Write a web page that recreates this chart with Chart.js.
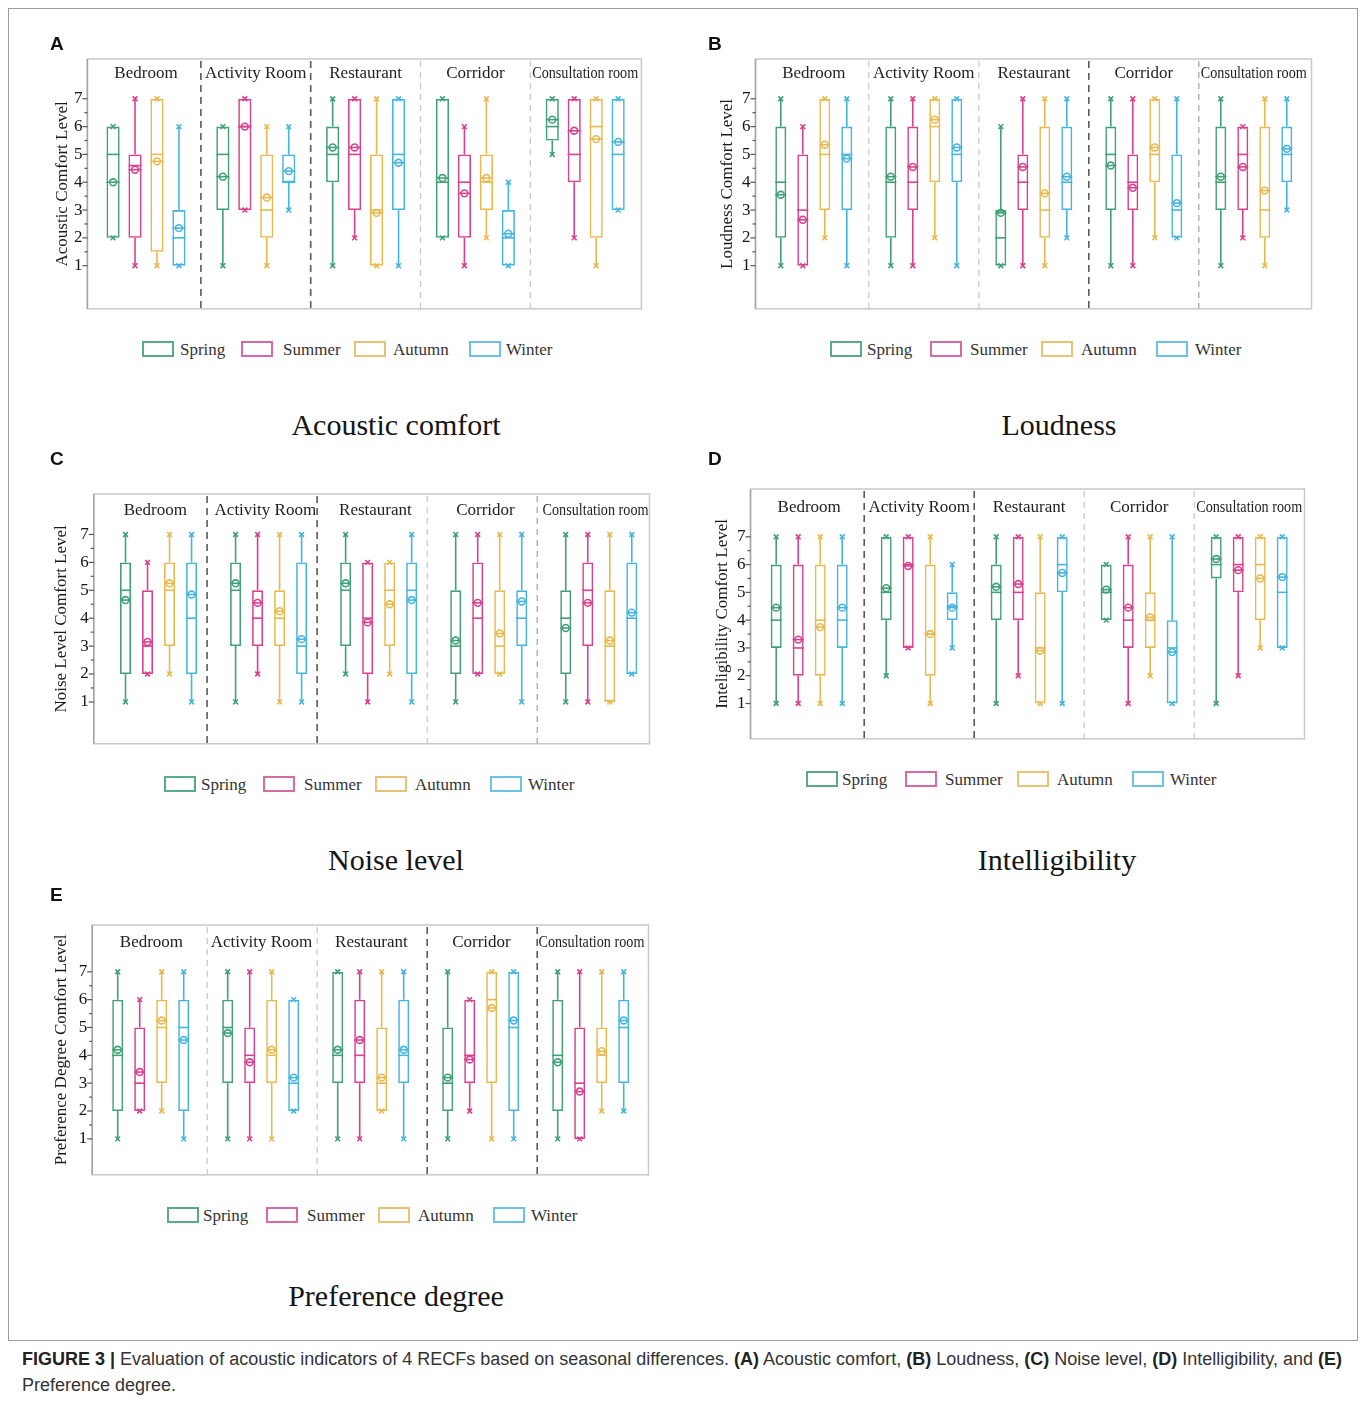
<!DOCTYPE html>
<html>
<head>
<meta charset="utf-8">
<script src="https://cdn.jsdelivr.net/npm/chart.js@4.4.1/dist/chart.umd.min.js"></script>
<style>
  html, body { margin: 0; padding: 0; background: #fff; }
  body { width: 1360px; height: 1403px; position: relative; overflow: hidden;
         font-family: "Liberation Serif", "Times New Roman", serif; }
  canvas { position: absolute; }
  .outer { position: absolute; left: 8px; top: 8px; width: 1350px; height: 1333px;
           border: 1px solid #9c9c9c; box-sizing: border-box; }
  .letter { position: absolute; font-family: "Liberation Sans", Arial, sans-serif;
            font-weight: bold; font-size: 19px; color: #111; line-height: 1; }
  .ptitle { position: absolute; font-size: 30px; color: #151515; white-space: nowrap;
            transform: translate(-50%, -50%); line-height: 1; }
  .lg-sw { position: absolute; width: 32px; height: 16px; box-sizing: border-box; border: 2px solid; }
  .lg-tx { position: absolute; font-size: 17px; color: #333; line-height: 1; transform: translateY(-50%); white-space: nowrap; }
  .caption { position: absolute; left: 22px; font-family: "Liberation Sans", Arial, sans-serif;
             font-size: 18px; color: #333; white-space: nowrap; line-height: 1; transform: translateY(-50%); }
  .caption b { color: #222; }
</style>
</head>
<body>
<div class="outer"></div>

<script>
// ---------- data ----------
const rooms = ['Bedroom', 'Activity Room', 'Restaurant', 'Corridor', 'Consultation room'];
const seasons = ['Spring', 'Summer', 'Autumn', 'Winter'];
const yTicks = [1, 2, 3, 4, 5, 6, 7];

// one entry per room: [lower whisker, Q1, median, Q3, upper whisker, mean]
const acousticSpring = [[2, 2, 5, 6, 6, 4.0], [1, 3, 5, 6, 6, 4.2], [1, 4, 5, 6, 7, 5.25], [2, 2, 4, 7, 7, 4.15], [5, 5.5, 6, 7, 7, 6.25]];
const acousticSummer = [[1, 2, 4.6, 5, 7, 4.45], [3, 3, 6, 7, 7, 6.0], [2, 3, 5, 7, 7, 5.25], [1, 2, 4, 5, 6, 3.6], [2, 4, 5, 7, 7, 5.85]];
const acousticAutumn = [[1, 1.5, 5, 7, 7, 4.75], [1, 2, 3, 5, 6, 3.45], [1, 1, 3, 5, 7, 2.9], [2, 3, 4, 5, 7, 4.15], [1, 2, 6, 7, 7, 5.55]];
const acousticWinter = [[1, 1, 2, 3, 6, 2.35], [3, 4, 4, 5, 6, 4.4], [1, 3, 5, 7, 7, 4.7], [1, 1, 2, 3, 4, 2.15], [3, 3, 5, 7, 7, 5.45]];

const loudnessSpring = [[1, 2, 4, 6, 7, 3.55], [1, 2, 4, 6, 7, 4.2], [1, 1, 2, 3, 6, 2.9], [1, 3, 5, 6, 7, 4.6], [1, 3, 4, 6, 7, 4.2]];
const loudnessSummer = [[1, 1, 3, 5, 6, 2.65], [1, 3, 4, 6, 7, 4.55], [1, 3, 4, 5, 7, 4.55], [1, 3, 4, 5, 7, 3.8], [2, 3, 5, 6, 6, 4.55]];
const loudnessAutumn = [[2, 3, 5, 7, 7, 5.35], [2, 4, 6, 7, 7, 6.25], [1, 2, 3, 6, 7, 3.6], [2, 4, 5, 7, 7, 5.25], [1, 2, 3, 6, 7, 3.7]];
const loudnessWinter = [[1, 3, 5, 6, 7, 4.85], [1, 4, 5, 7, 7, 5.25], [2, 3, 4, 6, 7, 4.2], [2, 2, 3, 5, 7, 3.25], [3, 4, 5, 6, 7, 5.2]];

const noiseSpring = [[1, 2, 5, 6, 7, 4.65], [1, 3, 5, 6, 7, 5.25], [2, 3, 5, 6, 7, 5.25], [1, 2, 3, 5, 7, 3.2], [1, 2, 4, 5, 7, 3.65]];
const noiseSummer = [[2, 2, 3, 5, 6, 3.15], [2, 3, 4, 5, 7, 4.55], [1, 2, 4, 6, 6, 3.85], [2, 2, 4, 6, 7, 4.55], [1, 3, 5, 6, 7, 4.55]];
const noiseAutumn = [[2, 3, 5, 6, 7, 5.25], [1, 3, 4, 5, 7, 4.25], [2, 3, 5, 6, 6, 4.5], [2, 2, 3, 5, 7, 3.45], [1, 1, 3, 5, 7, 3.2]];
const noiseWinter = [[1, 2, 4, 6, 7, 4.85], [1, 2, 3, 6, 7, 3.25], [1, 2, 5, 6, 7, 4.65], [1, 3, 4, 5, 7, 4.6], [2, 2, 4, 6, 7, 4.2]];

const intelSpring = [[1, 3, 4, 6, 7, 4.45], [2, 4, 5, 7, 7, 5.15], [1, 4, 5, 6, 7, 5.2], [4, 4, 5, 6, 6, 5.1], [1, 5.5, 6, 7, 7, 6.2]];
const intelSummer = [[1, 2, 3, 6, 7, 3.3], [3, 3, 6, 7, 7, 5.95], [2, 4, 5, 7, 7, 5.3], [1, 3, 4, 6, 7, 4.45], [2, 5, 6, 7, 7, 5.8]];
const intelAutumn = [[1, 2, 4, 6, 7, 3.75], [1, 2, 3.5, 6, 7, 3.5], [1, 1, 3, 5, 7, 2.9], [2, 3, 4, 5, 7, 4.1], [3, 4, 6, 7, 7, 5.5]];
const intelWinter = [[1, 3, 4, 6, 7, 4.45], [3, 4, 4.5, 5, 6, 4.45], [1, 5, 6, 7, 7, 5.7], [1, 1, 3, 4, 7, 2.85], [3, 3, 5, 7, 7, 5.55]];

const prefSpring = [[1, 2, 4, 6, 7, 4.2], [1, 3, 5, 6, 7, 4.8], [1, 3, 4, 7, 7, 4.2], [1, 2, 3, 5, 7, 3.2], [1, 2, 4, 6, 7, 3.75]];
const prefSummer = [[2, 2, 3, 5, 6, 3.4], [1, 3, 4, 5, 7, 3.75], [1, 3, 4, 6, 7, 4.55], [2, 3, 4, 6, 6, 3.85], [1, 1, 3, 5, 7, 2.7]];
const prefAutumn = [[2, 3, 5, 6, 7, 5.25], [1, 3, 4, 6, 7, 4.2], [2, 2, 3, 5, 7, 3.2], [1, 3, 6, 7, 7, 5.7], [2, 3, 4, 5, 7, 4.15]];
const prefWinter = [[1, 2, 5, 6, 7, 4.55], [2, 2, 3, 6, 6, 3.2], [1, 3, 4, 6, 7, 4.2], [1, 2, 5, 7, 7, 5.25], [2, 3, 5, 6, 7, 5.25]];

// ---------- styling ----------
const seasonColors = ['#41a077', '#d9408f', '#e8b94e', '#46b5de'];
const legendColors = ['#5aa98a', '#d66aa6', '#e9c374', '#6cc2e2'];
const SERIF = '"Liberation Serif", "Times New Roman", serif';

const sepStyles = {
  dark:  { color: '#5a5a5a', dash: [7, 5], width: 1.6 },
  mid:   { color: '#a8a8a8', dash: [6, 5], width: 1.3 },
  light: { color: '#c6c6c6', dash: [6, 5], width: 1.2 }
};

const panels = [
  { letter: 'A', letterPos: [50, 34], title: 'Acoustic comfort', titlePos: [396, 425],
    axisTitle: 'Acoustic Comfort Level',
    series: [acousticSpring, acousticSummer, acousticAutumn, acousticWinter],
    frame: { l: 87.7, r: 641.7, t: 59, b: 312 }, plotL: 91.4, plotR: 640.4, titleX: 62.5,
    yMin: -0.55, yMax: 8.43, sepShift: 0, labelDy: 15, barPct: 0.6,
    seps: ['dark', 'dark', 'light', 'light'],
    legendY: 349, legendSw: [142, 241, 354, 469], legendTx: [180, 283, 393, 506] },
  { letter: 'B', letterPos: [708, 34], title: 'Loudness', titlePos: [1059, 425],
    axisTitle: 'Loudness Comfort Level',
    series: [loudnessSpring, loudnessSummer, loudnessAutumn, loudnessWinter],
    frame: { l: 755, r: 1311, t: 59, b: 312 }, plotL: 758.3, plotR: 1308.3, titleX: 726.7,
    yMin: -0.55, yMax: 8.43, sepShift: 0, labelDy: 15, barPct: 0.5,
    seps: ['light', 'light', 'dark', 'mid'],
    legendY: 349, legendSw: [830, 930, 1041, 1156], legendTx: [867, 970, 1081, 1195] },
  { letter: 'C', letterPos: [50, 449], title: 'Noise level', titlePos: [396, 860],
    axisTitle: 'Noise Level Comfort Level',
    series: [noiseSpring, noiseSummer, noiseAutumn, noiseWinter],
    frame: { l: 93.3, r: 649, t: 494, b: 746.7 }, plotL: 103, plotR: 653.3, titleX: 60.7,
    yMin: -0.5, yMax: 8.45, sepShift: -6.5, labelDy: 17, barPct: 0.5,
    seps: ['dark', 'dark', 'light', 'mid'],
    legendY: 784, legendSw: [164, 263, 375, 490], legendTx: [201, 304, 415, 528] },
  { letter: 'D', letterPos: [708, 449], title: 'Intelligibility', titlePos: [1057, 860],
    axisTitle: 'Inteligibility Comfort Level',
    series: [intelSpring, intelSummer, intelAutumn, intelWinter],
    frame: { l: 750, r: 1304, t: 489, b: 741.7 }, plotL: 753.7, plotR: 1303.7, titleX: 721.7,
    yMin: -0.27, yMax: 8.72, sepShift: 0, labelDy: 19, barPct: 0.5,
    seps: ['dark', 'dark', 'light', 'light'],
    legendY: 779, legendSw: [806, 905, 1017, 1132], legendTx: [842, 945, 1057, 1170] },
  { letter: 'E', letterPos: [50, 885], title: 'Preference degree', titlePos: [396, 1296],
    axisTitle: 'Preference Degree Comfort Level',
    series: [prefSpring, prefSummer, prefAutumn, prefWinter],
    frame: { l: 91.7, r: 648, t: 925, b: 1178 }, plotL: 95.2, plotR: 645.2, titleX: 60.7,
    yMin: -0.29, yMax: 8.68, sepShift: 1.5, labelDy: 18, barPct: 0.5,
    seps: ['light', 'light', 'dark', 'dark'],
    legendY: 1215, legendSw: [167, 266, 378, 493], legendTx: [203, 307, 418, 531] }
];

// ---------- drawing helpers ----------
function makeDecor(p, originX) {
  const fl = p.frame.l - originX, fr = p.frame.r - originX;
  return {
    id: 'boxDecor' + p.letter,
    beforeDatasetsDraw(chart) {
      const ctx = chart.ctx, ys = chart.scales.y, xs = chart.scales.x, ca = chart.chartArea;
      ctx.save();
      // plot frame
      ctx.strokeStyle = '#c9c9c9';
      ctx.lineWidth = 1.5;
      ctx.strokeRect(fl, ca.top, fr - fl, ca.bottom - ca.top);
      ctx.strokeStyle = '#a5a5a5';
      ctx.beginPath(); ctx.moveTo(fl, ca.top); ctx.lineTo(fl, ca.bottom); ctx.stroke();
      // major and minor tick marks on the value axis
      ctx.strokeStyle = '#555';
      ctx.lineWidth = 1.2;
      yTicks.forEach(v => {
        const py = ys.getPixelForValue(v);
        ctx.beginPath(); ctx.moveTo(fl - 5, py); ctx.lineTo(fl, py); ctx.stroke();
        if (v < 7) {
          const pm = ys.getPixelForValue(v + 0.5);
          ctx.beginPath(); ctx.moveTo(fl - 3, pm); ctx.lineTo(fl, pm); ctx.stroke();
        }
      });
      // dashed separators between rooms
      for (let i = 1; i < rooms.length; i++) {
        const st = sepStyles[p.seps[i - 1]];
        const bx = (xs.getPixelForValue(i - 1) + xs.getPixelForValue(i)) / 2 + p.sepShift;
        ctx.strokeStyle = st.color;
        ctx.lineWidth = st.width;
        ctx.setLineDash(st.dash);
        ctx.beginPath(); ctx.moveTo(bx, ca.top + 2); ctx.lineTo(bx, ca.bottom); ctx.stroke();
      }
      ctx.setLineDash([]);
      // room names along the top of the plot
      ctx.fillStyle = '#1e1e1e';
      ctx.font = '17px ' + SERIF;
      ctx.textAlign = 'center';
      ctx.textBaseline = 'middle';
      rooms.forEach((r, i) => {
        ctx.fillText(r, xs.getPixelForValue(i) + p.sepShift / 2, ca.top + p.labelDy, 106);
      });
      ctx.restore();
    },
    afterDatasetsDraw(chart) {
      const ctx = chart.ctx, ys = chart.scales.y;
      ctx.save();
      ctx.lineWidth = 1.6;
      p.series.forEach((stats, d) => {
        const meta = chart.getDatasetMeta(d);
        ctx.strokeStyle = seasonColors[d];
        meta.data.forEach((bar, i) => {
          const [lo, q1, med, q3, hi, mean] = stats[i];
          const cx = bar.x, hw = bar.width / 2;
          const Y = v => ys.getPixelForValue(v);
          // whiskers
          ctx.beginPath();
          if (lo < q1) { ctx.moveTo(cx, Y(lo)); ctx.lineTo(cx, Y(q1)); }
          if (hi > q3) { ctx.moveTo(cx, Y(q3)); ctx.lineTo(cx, Y(hi)); }
          ctx.stroke();
          // whisker end crosses
          [lo, hi].forEach(v => {
            const py = Y(v), s = 2.4;
            ctx.beginPath();
            ctx.moveTo(cx - s, py - s); ctx.lineTo(cx + s, py + s);
            ctx.moveTo(cx - s, py + s); ctx.lineTo(cx + s, py - s);
            ctx.stroke();
          });
          // median
          ctx.beginPath(); ctx.moveTo(cx - hw, Y(med)); ctx.lineTo(cx + hw, Y(med)); ctx.stroke();
          // mean marker: small circle crossed by a short line
          const pm = Y(mean);
          ctx.beginPath(); ctx.moveTo(cx - hw, pm); ctx.lineTo(cx + hw, pm); ctx.stroke();
          ctx.beginPath(); ctx.arc(cx, pm, 3.4, 0, Math.PI * 2); ctx.stroke();
        });
      });
      ctx.restore();
    }
  };
}

function addText(cls, text, x, y) {
  const el = document.createElement('div');
  el.className = cls;
  el.textContent = text;
  el.style.left = x + 'px';
  el.style.top = y + 'px';
  document.body.appendChild(el);
  return el;
}

panels.forEach(p => {
  const titleFont = 17, titleHalf = titleFont * 1.2 / 2;
  const left = p.titleX - titleHalf;
  const top = p.frame.t - 20;
  const width = Math.ceil(p.plotR - left + 12);
  const height = Math.ceil(p.frame.b - top + 10);
  const canvas = document.createElement('canvas');
  canvas.width = width; canvas.height = height;
  canvas.style.left = left + 'px';
  canvas.style.top = top + 'px';
  document.body.appendChild(canvas);

  new Chart(canvas, {
    type: 'bar',
    data: {
      labels: rooms,
      datasets: seasons.map((s, k) => ({
        label: s,
        data: p.series[k].map(b => [b[1], b[3]]),
        borderColor: seasonColors[k],
        backgroundColor: 'rgba(255,255,255,0)',
        borderWidth: 1.6,
        borderSkipped: false,
        barPercentage: p.barPct,
        categoryPercentage: 0.8
      }))
    },
    options: {
      responsive: false,
      animation: false,
      devicePixelRatio: 1,
      layout: { padding: { left: 0, top: 20, right: width - (p.plotR - left), bottom: height - (p.frame.b - top) } },
      plugins: { legend: { display: false }, tooltip: { enabled: false } },
      scales: {
        x: { display: false, offset: true },
        y: {
          min: p.yMin, max: p.yMax,
          afterBuildTicks: s => { s.ticks = yTicks.map(v => ({ value: v })); },
          afterFit: s => { s.width = p.plotL - left; },
          border: { display: false },
          grid: { display: true, drawOnChartArea: false, drawTicks: true,
                  tickLength: p.plotL - p.frame.l + 2, tickColor: 'rgba(0,0,0,0)' },
          ticks: { color: '#151515', padding: 3, font: { family: SERIF, size: 17 } },
          title: { display: true, text: p.axisTitle, color: '#1a1a1a', padding: 0,
                   font: { family: SERIF, size: titleFont } }
        }
      }
    },
    plugins: [makeDecor(p, left)]
  });

  addText('letter', p.letter, p.letterPos[0], p.letterPos[1]);
  addText('ptitle', p.title, p.titlePos[0], p.titlePos[1]);
  seasons.forEach((s, k) => {
    const sw = document.createElement('div');
    sw.className = 'lg-sw';
    sw.style.left = p.legendSw[k] + 'px';
    sw.style.top = Math.round(p.legendY - 8) + 'px';
    sw.style.borderColor = legendColors[k];
    document.body.appendChild(sw);
    addText('lg-tx', s, p.legendTx[k], p.legendY);
  });
});

// caption below the figure
const cap1 = document.createElement('div');
cap1.className = 'caption';
cap1.style.top = '1359px';
cap1.innerHTML = '<b>FIGURE 3 |</b> Evaluation of acoustic indicators of 4 RECFs based on seasonal differences. <b>(A)</b> Acoustic comfort, <b>(B)</b> Loudness, <b>(C)</b> Noise level, <b>(D)</b> Intelligibility, and <b>(E)</b>';
document.body.appendChild(cap1);
const cap2 = document.createElement('div');
cap2.className = 'caption';
cap2.style.top = '1385px';
cap2.textContent = 'Preference degree.';
document.body.appendChild(cap2);
</script>
</body>
</html>
